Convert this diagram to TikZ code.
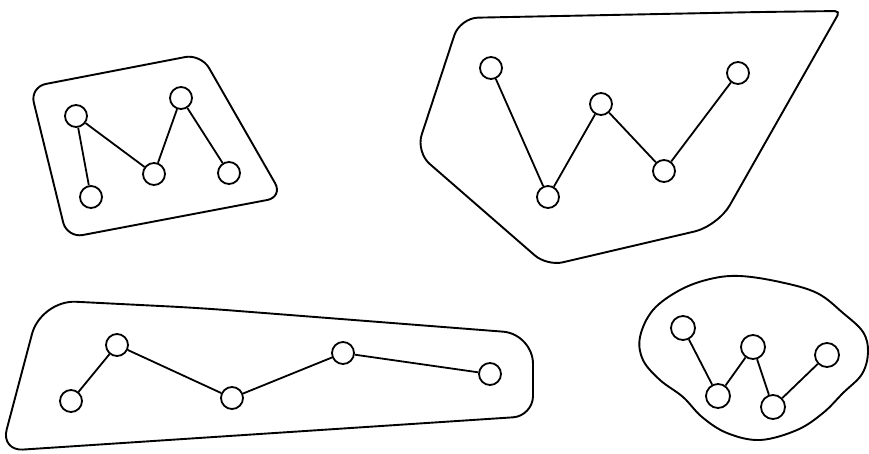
\documentclass[tikz,border=0pt]{standalone}
\usetikzlibrary{calc}
\begin{document}
\begin{tikzpicture}[x=1pt,y=-1pt,
  vtx/.style={circle,draw,line width=1.8pt,minimum size=22pt,inner sep=0pt},
  bigvtx/.style={vtx,minimum size=24pt},
  edge/.style={line width=1.8pt},
  hull/.style={line width=1.9pt}]
\useasboundingbox (0,0) rectangle (869,453);
% group 1 (M)
\node[vtx] (a1) at (76,116) {};
\node[vtx] (a2) at (91,197) {};
\node[vtx] (a3) at (154,174) {};
\node[vtx] (a4) at (181,98) {};
\node[vtx] (a5) at (229,173) {};
\draw[edge] (a1) -- (a2);
\draw[edge] (a1) -- (a3);
\draw[edge] (a3) -- (a4);
\draw[edge] (a4) -- (a5);
\draw[hull,rounded corners=16pt] (30,87) -- (201,54) -- (283,197) -- (67,238) -- cycle;
% group 2 (W)
\node[vtx] (b1) at (491,68) {};
\node[vtx] (b2) at (548,197) {};
\node[vtx] (b3) at (601,104) {};
\node[vtx] (b4) at (664,171) {};
\node[vtx] (b5) at (738,73) {};
\draw[edge] (b1) -- (b2);
\draw[edge] (b2) -- (b3);
\draw[edge] (b3) -- (b4);
\draw[edge] (b4) -- (b5);
\draw[hull,rounded corners=18pt] (460,18) -- (760,12) [rounded corners=5pt] -- (840,11) [rounded corners=24pt] -- (718,226) [rounded corners=16pt] -- (547,266) [rounded corners=18pt] -- (416,152) -- cycle;
% group 3
\node[vtx] (c1) at (71,401) {};
\node[vtx] (c2) at (117,345) {};
\node[vtx] (c3) at (232,398) {};
\node[vtx] (c4) at (343,353) {};
\node[vtx] (c5) at (490,374) {};
\draw[edge] (c1) -- (c2);
\draw[edge] (c2) -- (c3);
\draw[edge] (c3) -- (c4);
\draw[edge] (c4) -- (c5);
\draw[hull] (200,308) [rounded corners=35pt] -- (41,300) [rounded corners=22pt] -- (1,451) [rounded corners=20pt] -- (533,416) [rounded corners=30pt] -- (533,334) -- cycle;
% group 4 (blob)
\node[bigvtx] (d1) at (683,328) {};
\node[bigvtx] (d2) at (718,396) {};
\node[bigvtx] (d3) at (753,347) {};
\node[bigvtx] (d4) at (773,407) {};
\node[bigvtx] (d5) at (827,355) {};
\draw[edge] (d1) -- (d2);
\draw[edge] (d2) -- (d3);
\draw[edge] (d3) -- (d4);
\draw[edge] (d4) -- (d5);
\draw[hull] plot[smooth cycle,tension=0.6] coordinates {
 (740,276) (780,282) (817,293) (843,313) (863,332) (868,352) (862,374)
 (843,393) (823,413) (797,430) (760,440) (727,433) (702,417) (683,397)
 (660,380) (643,360) (640,337) (653,310) (680,290) (710,279)};
\end{tikzpicture}
\end{document}
